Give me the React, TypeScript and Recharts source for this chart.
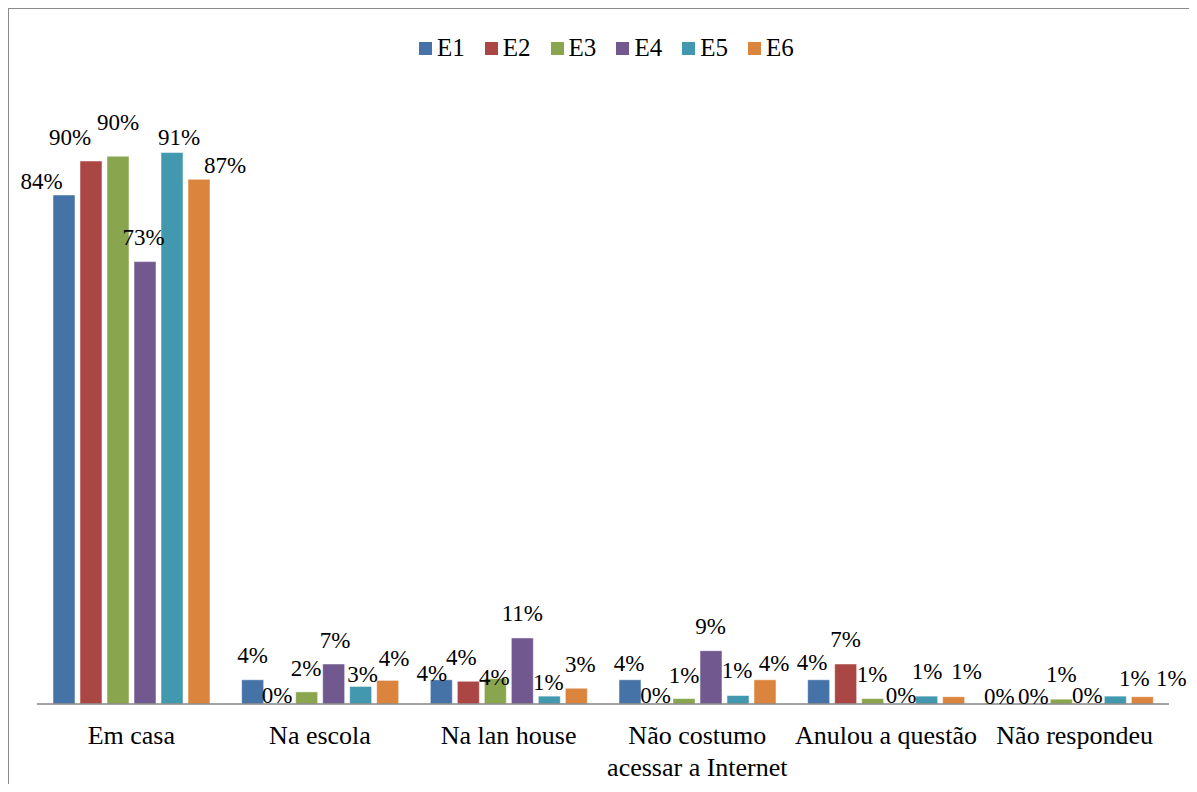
import { BarChart, Bar, XAxis, YAxis, LabelList, Rectangle } from "recharts";

const categories = [
  "Em casa",
  "Na escola",
  "Na lan house",
  "Não costumo acessar a Internet",
  "Anulou a questão",
  "Não respondeu",
];

// percentages per school, one value per category
const e1 = [84, 4, 4, 4, 4, 0];
const e2 = [89.6, 0, 3.75, 0, 6.6, 0];
const e3 = [90.4, 2, 4.2, 0.9, 0.9, 0.8];
const e4 = [73, 6.6, 10.9, 8.8, 0, 0];
const e5 = [91, 2.9, 1.3, 1.4, 1.3, 1.3];
const e6 = [86.6, 3.9, 2.6, 4, 1.2, 1.2];

const seriesNames = ["E1", "E2", "E3", "E4", "E5", "E6"];
const seriesValues = [e1, e2, e3, e4, e5, e6];
const seriesColors = ["#4572A7", "#AA4643", "#89A54E", "#71588F", "#4198AF", "#DB843D"];

// hand-placed label shifts [dx, dy] so neighbouring labels don't collide
const labelNudge: Record<string, number[][]> = {
  E1: [[-22.5, 10], [0, -1], [-9.5, 17.5], [-1, 7], [-6.5, 6.5], [-8, 16]],
  E2: [[-21, 0], [-2.5, 15], [-7, 0], [-1.5, 15], [0, -1], [-1, 16]],
  E3: [[0, -10], [-0.5, 0], [-1, 22], [0, 0], [-0.5, -1], [0, -1]],
  E4: [[-1.5, -1], [1.5, 0], [0, -1], [-0.5, -0.5], [1.5, 15], [-1, 15]],
  E5: [[7, 8], [2, 12], [-1, 10], [-1, -1.5], [0.5, -1.5], [19, 6]],
  E6: [[26, 10], [6.5, 2], [4, 0], [9, 7], [13, -1.5], [29, 5]],
};

const data = categories.map((category, i) => {
  const row: Record<string, string | number> = { category };
  seriesNames.forEach((name, s) => {
    row[name] = seriesValues[s][i];
  });
  return row;
});

const FONT = '"Liberation Serif", "Times New Roman", serif';

const makeLabel = (series: string) => (props: any) => {
  const { x, y, width, value, index } = props;
  const [dx, dy] = labelNudge[series][index] || [0, 0];
  return (
    <text
      x={Number(x) + Number(width) / 2 + dx}
      y={Number(y) - 16 + dy}
      textAnchor="middle"
      fontSize={23}
      fontFamily={FONT}
      fill="#000"
    >
      {`${Math.round(Number(value))}%`}
    </text>
  );
};

// zero bars are kept as hairlines so their labels still get drawn; no outline on those
const BarShape = (props: any) => (
  <Rectangle {...props} stroke={props.height > 0.5 ? "#ffffff" : "none"} strokeOpacity={0.5} />
);

// long category names break onto a second line
const tickLines = (name: string) =>
  name === "Não costumo acessar a Internet" ? ["Não costumo", "acessar a Internet"] : [name];

const CategoryTick = (props: any) => {
  const { x, y, payload } = props;
  return (
    <text x={x} y={y} textAnchor="middle" fontSize={26} fontFamily={FONT} fill="#000">
      {tickLines(payload.value).map((line, i) => (
        <tspan key={line} x={x} dy={i === 0 ? 40 : 32}>
          {line}
        </tspan>
      ))}
    </text>
  );
};

const Legend = () => (
  <div
    style={{
      position: "absolute",
      left: 410,
      top: 26,
      display: "flex",
      fontFamily: FONT,
      fontSize: 25,
      lineHeight: "26px",
    }}
  >
    {seriesNames.map((name, i) => (
      <div key={name} style={{ display: "flex", alignItems: "center", width: 65.8 }}>
        <span
          style={{ width: 13, height: 13, background: seriesColors[i], marginRight: 5 }}
        />
        <span>{name}</span>
      </div>
    ))}
  </div>
);

const App = () => {
  return (
    <div
      style={{
        position: "relative",
        width: 1189,
        height: 776,
        boxSizing: "border-box",
        borderLeft: "1px solid #8c8c8c",
        borderTop: "1px solid #8c8c8c",
        background: "#fff",
      }}
    >
      <Legend />
      <BarChart
        width={1188}
        height={775}
        data={data}
        margin={{ top: 89, right: 28, bottom: 0, left: 28 }}
        barCategoryGap={16}
        barGap={5}
      >
        <XAxis
          dataKey="category"
          interval={0}
          height={80}
          tickLine={false}
          axisLine={{ stroke: "#868686", strokeWidth: 1.5 }}
          tick={<CategoryTick />}
          tickSize={0}
          tickMargin={0}
        />
        <YAxis hide domain={[0, 100]} />
        {seriesNames.map((name, i) => (
          <Bar
            key={name}
            dataKey={name}
            fill={seriesColors[i]}
            minPointSize={(v: number) => (v === 0 ? 0.01 : 0)}
            shape={<BarShape />}
            isAnimationActive={false}
          >
            <LabelList dataKey={name} content={makeLabel(name)} />
          </Bar>
        ))}
      </BarChart>
    </div>
  );
};

export default App;
